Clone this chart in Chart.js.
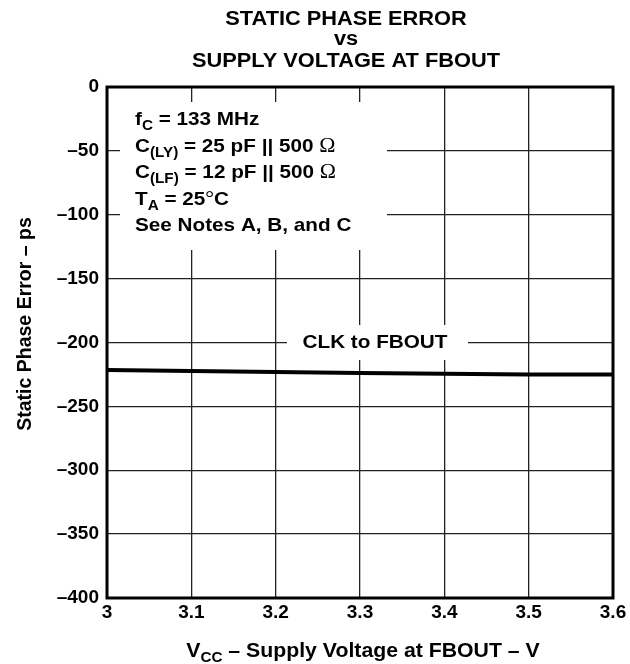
<!DOCTYPE html>
<html>
<head>
<meta charset="utf-8">
<title>Static Phase Error vs Supply Voltage at FBOUT</title>
<script src="https://cdn.jsdelivr.net/npm/chart.js@4.4.1/dist/chart.umd.min.js"></script>
<style>
  html, body { margin: 0; padding: 0; background: #fff; }
</style>
</head>
<body>
<canvas id="phase-chart" width="630" height="664"></canvas>
<script>
// chart data
const vccValues = [3.0, 3.1, 3.2, 3.3, 3.4, 3.5, 3.6];
const phaseError = [-221.5, -222.3, -223, -223.8, -224.5, -225, -225];
const xTickLabels = ['3', '3.1', '3.2', '3.3', '3.4', '3.5', '3.6'];
const yTickLabels = ['\u2013400', '\u2013350', '\u2013300', '\u2013250', '\u2013200', '\u2013150', '\u2013100', '\u201350', '0'];
const titleLines = ['STATIC PHASE ERROR', 'vs', 'SUPPLY VOLTAGE AT FBOUT'];
const seriesLabel = 'CLK to FBOUT';

// text runs: [text, kind] where kind is '', 'sub', 'sym' or 'big'
const noteLines = [
    [['f', ''], ['C', 'sub'], [' = 133 MHz', '']],
    [['C', ''], ['(LY)', 'sub'], [' = 25 pF || 500 ', ''], ['\u03A9', 'sym']],
    [['C', ''], ['(LF)', 'sub'], [' = 12 pF || 500 ', ''], ['\u03A9', 'sym']],
    [['T', ''], ['A', 'sub'], [' = 25', ''], ['\u00B0', 'sym'], ['C', '']],
    [['See Notes A, B, and C', '']]
];
const xTitleRuns = [['V', 'mid'], ['CC', 'sub'], [' \u2013 Supply Voltage at FBOUT \u2013 V', 'mid']];
const yTitle = 'Static Phase Error \u2013 ps';

const sans = '"Liberation Sans", Arial, Helvetica, sans-serif';
const stretch = 1.09; // the original figure is a bit wider than tall

function fontFor(kind) {
    if (kind === 'sub') return 'bold 14px ' + sans;
    if (kind === 'sym') return '20px "Liberation Serif", "Times New Roman", serif';
    if (kind === 'big') return 'bold 20px ' + sans;
    if (kind === 'mid') return 'bold 19.5px ' + sans;
    return 'bold 19px ' + sans;
}

function drawRuns(ctx, runs, x, y, align) {
    let w = 0;
    runs.forEach(r => { ctx.font = fontFor(r[1]); w += ctx.measureText(r[0]).width; });
    let cx = align === 'center' ? -w / 2 : 0;
    ctx.save();
    ctx.translate(x, y);
    ctx.scale(stretch, 1);
    ctx.textAlign = 'left';
    ctx.textBaseline = 'alphabetic';
    ctx.fillStyle = '#000';
    runs.forEach(r => {
        ctx.font = fontFor(r[1]);
        ctx.fillText(r[0], cx, r[1] === 'sub' ? 5 : 0);
        cx += ctx.measureText(r[0]).width;
    });
    ctx.restore();
}

const overlayPlugin = {
    id: 'overlay',
    beforeDatasetsDraw(chart) {
        const ctx = chart.ctx;
        const a = chart.chartArea;
        // white boxes behind the notes and the curve label
        ctx.save();
        ctx.fillStyle = '#fff';
        ctx.fillRect(a.left + 13, a.top + 15, 267, 148);
        ctx.fillRect(a.left + 180, a.top + 238, 181, 35);
        ctx.restore();
    },
    afterDraw(chart) {
        const ctx = chart.ctx;
        const a = chart.chartArea;

        // thick frame
        ctx.save();
        ctx.strokeStyle = '#000';
        ctx.lineWidth = 3;
        ctx.strokeRect(a.left, a.top, a.right - a.left, a.bottom - a.top);
        ctx.restore();

        // title
        const titleY = [25, 45, 66.5];
        titleLines.forEach((t, i) => drawRuns(ctx, [[t, 'big']], 346, titleY[i], 'center'));

        // notes
        noteLines.forEach((line, i) => drawRuns(ctx, line, a.left + 28, a.top + 38 + i * 26.6, 'left'));

        // curve label
        drawRuns(ctx, [[seriesLabel, '']], a.left + 268, a.top + 261, 'center');

        // axis titles
        drawRuns(ctx, xTitleRuns, 363, 657, 'center');

        ctx.save();
        ctx.translate(31, 324);
        ctx.rotate(-Math.PI / 2);
        ctx.font = 'bold 19.5px ' + sans;
        ctx.textAlign = 'center';
        ctx.textBaseline = 'alphabetic';
        ctx.fillStyle = '#000';
        ctx.fillText(yTitle, 0, 0);
        ctx.restore();
    }
};

const ctx = document.getElementById('phase-chart').getContext('2d');
new Chart(ctx, {
    type: 'line',
    data: {
        datasets: [{
            label: seriesLabel,
            data: vccValues.map((v, i) => ({ x: v, y: phaseError[i] })),
            borderColor: '#000',
            borderWidth: 4,
            pointRadius: 0,
            tension: 0,
            fill: false
        }]
    },
    options: {
        responsive: false,
        animation: false,
        layout: { padding: { left: 0, top: 87, right: 17, bottom: 0 } },
        plugins: {
            legend: { display: false },
            title: { display: false },
            tooltip: { enabled: false }
        },
        scales: {
            x: {
                type: 'linear',
                min: 3,
                max: 3.6,
                afterFit: (scale) => { scale.height = 66; },
                afterBuildTicks: (scale) => {
                    scale.ticks = vccValues.map(v => ({ value: v }));
                },
                ticks: {
                    padding: 3,
                    color: '#000',
                    font: { family: sans, size: 19, weight: 'bold' },
                    maxRotation: 0,
                    autoSkip: false,
                    callback: (v, i) => xTickLabels[i]
                },
                grid: { color: '#222', lineWidth: 1.3, drawTicks: false },
                border: { display: false }
            },
            y: {
                min: -400,
                max: 0,
                afterFit: (scale) => { scale.width = 107; },
                ticks: {
                    stepSize: 50,
                    padding: 8,
                    color: '#000',
                    font: { family: sans, size: 19, weight: 'bold' },
                    callback: (v, i) => yTickLabels[i]
                },
                grid: { color: '#222', lineWidth: 1.3, drawTicks: false },
                border: { display: false }
            }
        }
    },
    plugins: [overlayPlugin]
});
</script>
</body>
</html>
